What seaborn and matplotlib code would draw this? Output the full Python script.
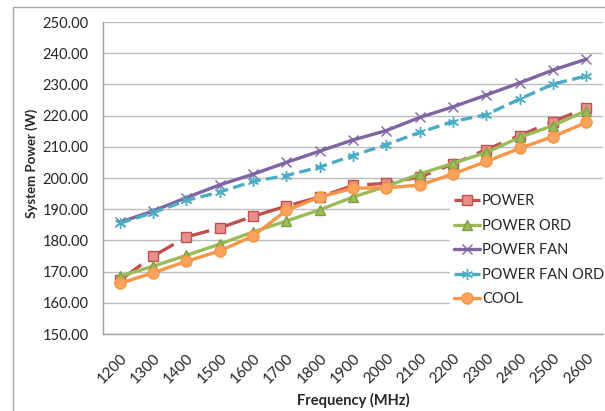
import numpy as np
import pandas as pd
import seaborn as sns
import matplotlib.pyplot as plt
from matplotlib.patches import Rectangle

# frequency categories (MHz)
freqs = ["1200", "1300", "1400", "1500", "1600", "1700", "1800", "1900",
         "2000", "2100", "2200", "2300", "2400", "2500", "2600"]

# system power readings (W)
power = [167.2, 174.9, 181.1, 184.0, 187.7, 191.0, 193.9, 197.6,
         198.3, 200.3, 204.5, 209.1, 213.6, 218.1, 222.4]
power_ord = [168.5, 171.7, 175.2, 178.8, 182.7, 186.2, 189.8, 193.9,
             197.3, 201.3, 204.7, 208.2, 213.0, 216.8, 221.6]
power_fan = [185.8, 189.4, 193.7, 197.8, 201.2, 205.0, 208.6, 212.2,
             215.2, 219.4, 222.8, 226.6, 230.5, 234.6, 238.1]
power_fan_ord = [185.5, 188.9, 192.8, 195.5, 198.9, 200.8, 203.5, 207.2,
                 210.7, 214.6, 218.1, 220.3, 225.3, 230.1, 232.7]
cool = [166.2, 169.6, 173.3, 176.6, 181.4, 189.6, 193.9, 196.7,
        196.9, 197.7, 201.3, 205.3, 209.5, 213.3, 217.8]

series = {
    "POWER": power,
    "POWER ORD": power_ord,
    "POWER FAN": power_fan,
    "POWER FAN ORD": power_fan_ord,
    "COOL": cool,
}

# line / marker styling per series (excel 2007 palette)
styles = {
    "POWER": dict(color="#C0504D", marker="s", mfc="#E8908E", mec="#C0504D",
                  ms=7, dashes=(8, 3.5)),
    "POWER ORD": dict(color="#9BBB59", marker="^", mfc="#9BBB59", mec="#7F9E45",
                      ms=7, dashes=None),
    "POWER FAN": dict(color="#8064A2", marker="x", mfc="#8064A2", mec="#8064A2",
                      ms=7, dashes=None),
    "POWER FAN ORD": dict(color="#4BACC6", marker=(6, 2, 0), mfc="#4BACC6",
                          mec="#4BACC6", ms=8, dashes=(3.5, 1.6)),
    "COOL": dict(color="#F79646", marker="o", mfc="#F9A35E", mec="#F79646",
                 ms=8, dashes=None),
}

df = pd.DataFrame(series)
df["idx"] = np.arange(len(freqs))

sns.set_style("white")
plt.rcParams["font.family"] = ["Lato", "DejaVu Sans"]

fig = plt.figure(figsize=(6.05, 4.11), dpi=100)
ax = fig.add_axes([103 / 605, 1 - 334 / 411, 500 / 605, 312 / 411])

# outer chart frame (cropped at right / bottom in the original)
fig.patches.append(Rectangle((13 / 605, -0.1), 1.2, 1 - 7 / 411 + 0.1,
                             transform=fig.transFigure, fill=False,
                             edgecolor="#A6A6A6", linewidth=1))

for name in series:
    st = styles[name]
    kw = dict(marker=st["marker"], markersize=st["ms"],
              markerfacecolor=st["mfc"], markeredgecolor=st["mec"],
              markeredgewidth=1.0, linewidth=2.4)
    sns.lineplot(data=df, x="idx", y=name, color=st["color"], label=name,
                 ax=ax, **kw)
    if st["dashes"] is not None:
        ax.lines[-1].set_dashes(st["dashes"])

ax.set_xlim(-0.5, len(freqs) - 0.5)
ax.set_ylim(150, 250)
ax.set_yticks(np.arange(150, 251, 10))
ax.set_yticklabels([f"{v:.2f}" for v in np.arange(150, 251, 10)],
                   fontsize=10.5)
ax.set_xticks(np.arange(len(freqs)))
ax.set_xticklabels(freqs, rotation=45, ha="right", rotation_mode="anchor",
                   fontsize=11)
ax.set_xticks(np.arange(len(freqs) + 1) - 0.5, minor=True)
ax.tick_params(axis="x", which="major", length=0, pad=12)
ax.tick_params(axis="x", which="minor", length=3.6, color="#A0A0A0", width=1)
ax.tick_params(axis="y", length=4, color="#A0A0A0", width=1, pad=6.5)

ax.grid(axis="y", color="#BDBDBD", linewidth=1)
ax.set_axisbelow(True)
for side in ["top", "right"]:
    ax.spines[side].set_visible(False)
for side in ["left", "bottom"]:
    ax.spines[side].set_color("#A0A0A0")
    ax.spines[side].set_linewidth(1)

ax.set_xlabel("")
ax.set_ylabel("")
fig.text(353 / 605, 1 - 400 / 411, "Frequency (MHz)", fontsize=10.5,
         fontweight="bold", ha="center", va="center")
fig.text(32 / 605, 1 - 163 / 411, "System Power (W)", fontsize=9.5,
         fontweight="bold", ha="center", va="center", rotation=90)

leg = ax.legend(loc="upper left", bbox_to_anchor=(450 / 605, 1 - 190 / 411),
                bbox_transform=fig.transFigure, frameon=True, framealpha=1,
                edgecolor="white", fancybox=False, fontsize=10.5,
                handlelength=1.75, handletextpad=0.15, labelspacing=0.72,
                borderpad=0.3, borderaxespad=0)
leg.get_frame().set_linewidth(0)

fig.savefig("out.png", dpi=100)
